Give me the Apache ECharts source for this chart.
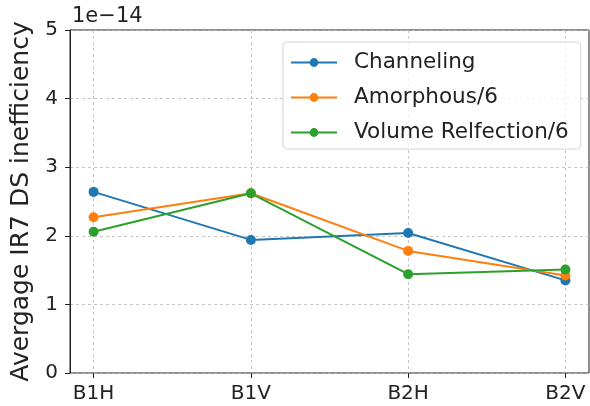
<!DOCTYPE html>
<html>
<head>
<meta charset="utf-8">
<script src="https://cdn.jsdelivr.net/npm/echarts@6/dist/echarts.min.js"></script>
<style>
  html, body { margin: 0; padding: 0; background: #fff; }
  #chart { width: 590px; height: 406px; }
</style>
</head>
<body>
<div id="chart"></div>
<script>
// Beam/plane labels along the x axis
const categories = ['B1H', 'B1V', 'B2H', 'B2V'];
// Inefficiency values, in units of 1e-14
const channeling = [2.64, 1.94, 2.04, 1.35];
const amorphous6 = [2.27, 2.62, 1.78, 1.42];
const volumeRefl6 = [2.06, 2.62, 1.44, 1.51];
const yTicks = [0, 1, 2, 3, 4, 5];

const FONT = 'DejaVu Sans';
const gridDash = { color: '#b8b8b8', width: 0.8, type: [3, 3] };

const chart = echarts.init(document.getElementById('chart'), null, { renderer: 'canvas' });

function lineSeries(name, data, color) {
  return {
    name: name,
    type: 'line',
    xAxisIndex: 1,
    yAxisIndex: 1,
    data: data,
    symbol: 'circle',
    symbolSize: 10,
    lineStyle: { color: color, width: 2 },
    itemStyle: { color: color },
    emphasis: { disabled: true },
    animation: false
  };
}

chart.setOption({
  animation: false,
  grid: [
    // outer frame with y ticks and horizontal grid
    { left: 70, right: 1, top: 30, bottom: 33, show: true, borderColor: '#222', borderWidth: 1, backgroundColor: 'transparent' },
    // data area inset by the 5% margins on each side
    { left: 93.6, right: 24.6, top: 30, bottom: 33 }
  ],
  xAxis: [
    { gridIndex: 0, type: 'value', min: 0, max: 1, show: false },
    {
      gridIndex: 1, type: 'category', data: categories, boundaryGap: false,
      axisLine: { show: false },
      axisTick: { show: true, length: 5, alignWithLabel: true, lineStyle: { color: '#222' } },
      axisLabel: { fontFamily: FONT, fontSize: 20, color: '#222', margin: 11 },
      splitLine: { show: true, lineStyle: gridDash }
    }
  ],
  yAxis: [
    {
      gridIndex: 0, type: 'value', min: 0, max: 5, interval: 1,
      name: 'Avergage IR7 DS inefficiency', nameLocation: 'middle', nameGap: 28,
      nameTextStyle: { fontFamily: FONT, fontSize: 25, color: '#222' },
      axisLine: { show: true, lineStyle: { color: '#222' } },
      axisTick: { show: true, length: 5, lineStyle: { color: '#222' } },
      axisLabel: {
        fontFamily: FONT, fontSize: 20, color: '#222', margin: 12,
        formatter: v => yTicks.includes(v) ? String(v) : ''
      },
      splitLine: { show: true, lineStyle: gridDash }
    },
    { gridIndex: 1, type: 'value', min: 0, max: 5, show: false }
  ],
  legend: {
    left: 283, top: 42,
    orient: 'vertical',
    data: ['Channeling', 'Amorphous/6', 'Volume Relfection/6'],
    itemWidth: 46, itemHeight: 11, itemGap: 10,
    padding: [8, 12, 4, 7],
    borderColor: '#d4d4d4', borderWidth: 1, borderRadius: 4,
    backgroundColor: 'rgba(255,255,255,0.8)',
    textStyle: { fontFamily: FONT, fontSize: 21.5, color: '#222', lineHeight: 25, padding: [0, 0, 0, 12] },
    selectedMode: false
  },
  graphic: [
    { type: 'text', left: 72, top: 6, style: { text: '1e\u221214', fontFamily: FONT, fontSize: 21, fill: '#222' } }
  ],
  series: [
    lineSeries('Channeling', channeling, '#1f77b4'),
    lineSeries('Amorphous/6', amorphous6, '#ff7f0e'),
    lineSeries('Volume Relfection/6', volumeRefl6, '#2ca02c')
  ]
});
</script>
</body>
</html>
